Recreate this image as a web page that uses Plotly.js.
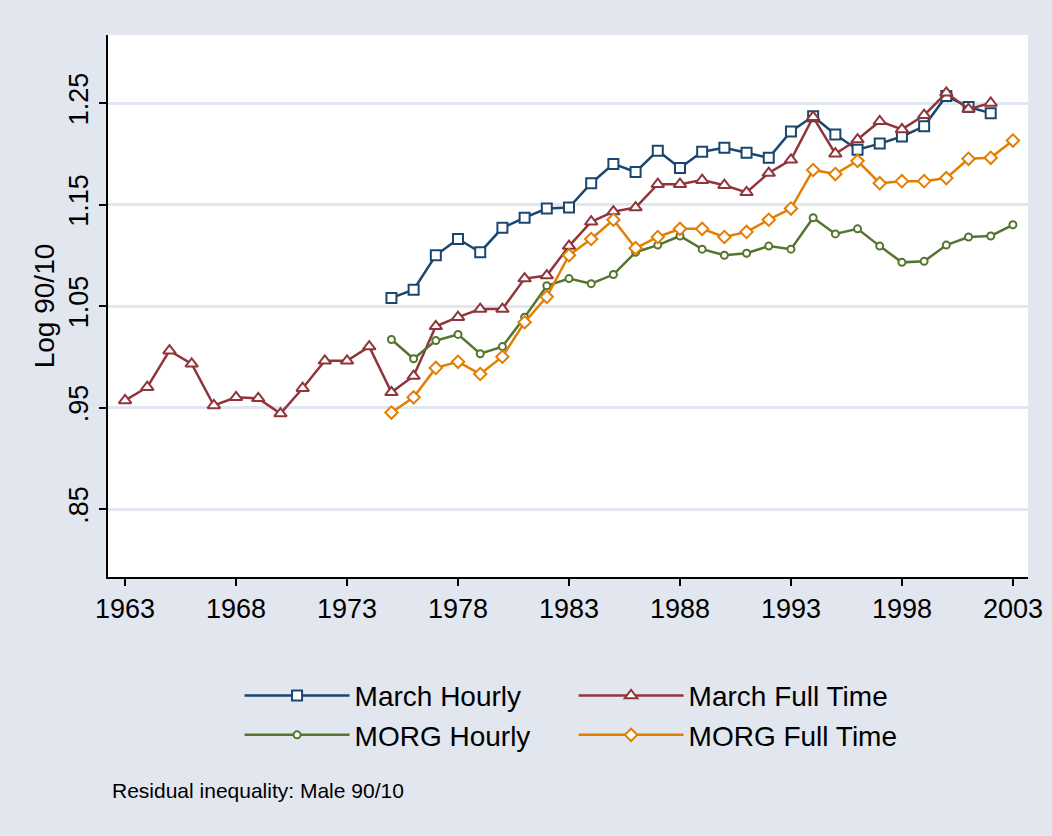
<!DOCTYPE html>
<html>
<head>
<meta charset="utf-8">
<script src="https://cdn.plot.ly/plotly-3.0.1.min.js"></script>
<style>
  body { margin: 0; background: #e1e6ef; }
  #plot { width: 1052px; height: 836px; }
</style>
</head>
<body>
<div id="plot"></div>
<script>
// years for each series
const yearsMarchFT = [];
for (let y = 1963; y <= 2002; y++) yearsMarchFT.push(y);
const yearsMarchHourly = [];
for (let y = 1975; y <= 2002; y++) yearsMarchHourly.push(y);
const yearsMorg = [];
for (let y = 1975; y <= 2003; y++) yearsMorg.push(y);

// values
const marchHourly = [1.058, 1.066, 1.100, 1.116, 1.103, 1.127, 1.137, 1.146, 1.147, 1.171,
    1.190, 1.182, 1.203, 1.186, 1.202, 1.206, 1.201, 1.196, 1.222, 1.237,
    1.219, 1.204, 1.210, 1.217, 1.227, 1.257, 1.246, 1.240];

const marchFullTime = [0.957, 0.970, 1.006, 0.993, 0.952, 0.960, 0.959, 0.944, 0.969, 0.996,
    0.996, 1.010, 0.965, 0.981, 1.030, 1.039, 1.047, 1.047, 1.077, 1.080,
    1.109, 1.133, 1.143, 1.147, 1.170, 1.170, 1.174, 1.169, 1.162, 1.181,
    1.194, 1.236, 1.200, 1.214, 1.232, 1.224, 1.238, 1.260, 1.244, 1.250];

const morgHourly = [1.017, 0.998, 1.016, 1.022, 1.003, 1.010, 1.039, 1.070, 1.077, 1.072,
    1.081, 1.103, 1.110, 1.119, 1.106, 1.100, 1.102, 1.109, 1.106, 1.137,
    1.121, 1.126, 1.109, 1.093, 1.094, 1.110, 1.118, 1.119, 1.130];

const morgFullTime = [0.945, 0.960, 0.989, 0.995, 0.983, 1.000, 1.034, 1.059, 1.100, 1.116,
    1.135, 1.107, 1.118, 1.126, 1.126, 1.118, 1.123, 1.135, 1.146, 1.184,
    1.180, 1.193, 1.171, 1.173, 1.173, 1.176, 1.195, 1.196, 1.213];

const xTicks = [1963, 1968, 1973, 1978, 1983, 1988, 1993, 1998, 2003];
const yTicks = [0.85, 0.95, 1.05, 1.15, 1.25];
const yTickLabels = ['.85', '.95', '1.05', '1.15', '1.25'];

const bg = '#e1e6ef';
const font = 'Liberation Sans, Arial, sans-serif';

function series(name, x, y, color, symbol, size) {
    return {
        type: 'scatter',
        mode: 'lines+markers',
        name: name,
        x: x,
        y: y,
        line: { color: color, width: 2.5 },
        marker: {
            symbol: symbol,
            size: size,
            color: 'white',
            line: { color: color, width: 2 }
        },
        hoverinfo: 'x+y+name'
    };
}

const traces = [
    series('March Hourly', yearsMarchHourly, marchHourly, '#1a476f', 'square', 10),
    series('March Full Time', yearsMarchFT, marchFullTime, '#90353b', 'triangle-up', 11),
    series('MORG Hourly', yearsMorg, morgHourly, '#55752f', 'circle', 7),
    series('MORG Full Time', yearsMorg, morgFullTime, '#e37e00', 'diamond', 9.5)
];

const layout = {
    width: 1052,
    height: 836,
    paper_bgcolor: bg,
    plot_bgcolor: 'white',
    font: { family: font, color: 'black', size: 27 },
    margin: { l: 108, r: 24, t: 35, b: 259 },
    showlegend: true,
    xaxis: {
        range: [1962.23, 2003.68],
        tickvals: xTicks,
        ticks: 'outside',
        ticklen: 7,
        tickwidth: 1.5,
        tickcolor: 'black',
        showline: true,
        linecolor: 'black',
        linewidth: 1.5,
        showgrid: false,
        zeroline: false,
        tickfont: { size: 27 }
    },
    yaxis: {
        range: [0.783, 1.317],
        tickvals: yTicks,
        ticktext: yTickLabels,
        tickangle: -90,
        ticks: 'outside',
        ticklen: 7,
        tickwidth: 1.5,
        tickcolor: 'black',
        showline: true,
        linecolor: 'black',
        linewidth: 1.5,
        showgrid: true,
        gridcolor: bg,
        gridwidth: 2.5,
        zeroline: false,
        tickfont: { size: 27 },
        title: { text: 'Log 90/10', font: { size: 28 }, standoff: 2 }
    },
    legend: {
        orientation: 'h',
        x: 0.143,
        xanchor: 'left',
        y: -0.173,
        yanchor: 'top',
        entrywidth: 214,
        itemwidth: 105,
        font: { size: 28 },
        bgcolor: 'rgba(0,0,0,0)',
        traceorder: 'normal'
    },
    annotations: [{
        xref: 'paper', yref: 'paper',
        x: 0.002, y: -0.393,
        xanchor: 'left', yanchor: 'middle',
        text: 'Residual inequality: Male 90/10',
        showarrow: false,
        font: { size: 21 }
    }]
};

Plotly.newPlot('plot', traces, layout, { displayModeBar: false });
</script>
</body>
</html>
